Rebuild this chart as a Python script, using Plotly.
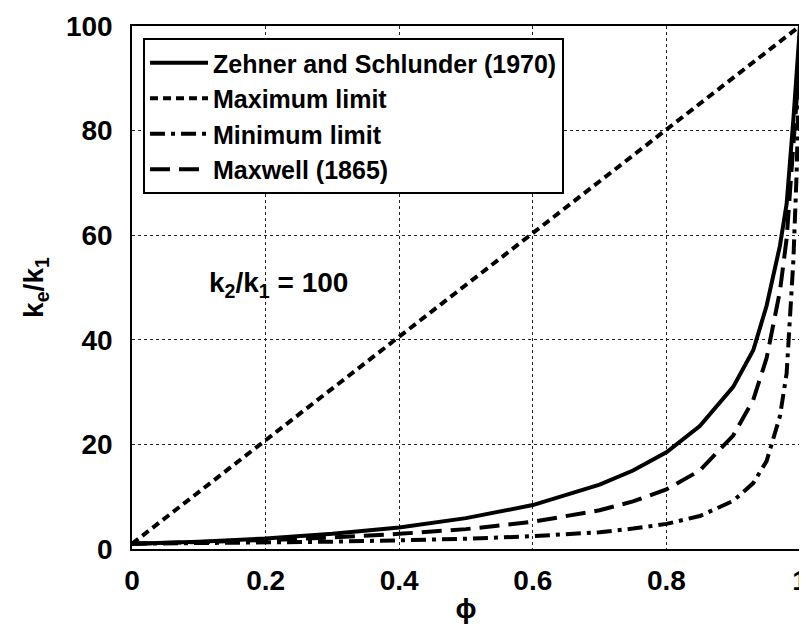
import plotly.graph_objects as go

phi = [0, 0.1, 0.2, 0.3, 0.4, 0.5, 0.6, 0.7, 0.75, 0.8, 0.85, 0.9, 0.93, 0.95, 0.97, 0.98, 0.99, 0.995, 1.0]
zehner = [1, 1.4, 2.0, 2.9, 4.1, 5.9, 8.4, 12.3, 15.0, 18.5, 23.5, 31, 38, 46.5, 58, 66, 82, 90, 100]
maximum = [1, 10.9, 20.8, 30.7, 40.6, 50.5, 60.4, 70.3, 75.25, 80.2, 85.15, 90.1, 93.1, 95.05, 97.0, 98.0, 99.0, 99.5, 100]
minimum = [1, 1.1, 1.25, 1.4, 1.65, 1.95, 2.45, 3.2, 3.9, 4.8, 6.3, 9.2, 12.6, 16.8, 25.4, 33.6, 55, 72, 100]
maxwell = [1, 1.3, 1.7, 2.2, 2.9, 3.8, 5.2, 7.4, 9.1, 11.4, 15.0, 21.7, 28.5, 36.5, 49.3, 59.4, 76, 86, 100]

series = [
    ("Zehner and Schlunder (1970)", zehner, "solid"),
    ("Maximum limit", maximum, "8px,5px"),
    ("Minimum limit", minimum, "15px,6px,4px,6px"),
    ("Maxwell (1865)", maxwell, "20px,9px"),
]

fig = go.Figure()
for name, ys, dash in series:
    fig.add_trace(go.Scatter(x=phi, y=ys, mode="lines", name=name,
                             line=dict(color="black", width=4, dash=dash)))

font = dict(family="Liberation Sans, Arial, sans-serif", color="black")
fig.add_annotation(x=0.22, y=50.5, xref="x", yref="y", showarrow=False,
                   text="k<sub>2</sub>/k<sub>1</sub> = 100",
                   font=dict(size=28, weight="bold", **font))

axis_common = dict(showline=True, linecolor="black", linewidth=1.5, mirror=True,
                   showgrid=True, gridcolor="#222222", gridwidth=1, griddash="dot",
                   zeroline=False, ticks="", automargin=False,
                   tickfont=dict(size=28, weight="bold", **font))
fig.update_xaxes(range=[0, 1], tickvals=[0, 0.2, 0.4, 0.6, 0.8, 1],
                 ticktext=["0", "0.2", "0.4", "0.6", "0.8", "1"],
                 ticklabelstandoff=6, ticklabeloverflow="allow",
                 title=dict(text="ϕ", font=dict(size=28, weight="bold", **font), standoff=9),
                 **axis_common)
fig.update_yaxes(range=[0, 100], tickvals=[0, 20, 40, 60, 80, 100],
                 ticklabelstandoff=12,
                 title=dict(text="k<sub>e</sub>/k<sub>1</sub>", font=dict(size=28, weight="bold", **font), standoff=14),
                 **axis_common)
fig.update_layout(
    width=799, height=616,
    margin=dict(l=124, r=7, t=18, b=75),
    plot_bgcolor="white", paper_bgcolor="white",
    legend=dict(x=0.0165, y=0.977, xanchor="left", yanchor="top",
                bordercolor="black", borderwidth=2, bgcolor="white",
                font=dict(size=25, weight="bold", **font), tracegroupgap=0,
                itemwidth=58),
)
fig.write_html("out.html")
